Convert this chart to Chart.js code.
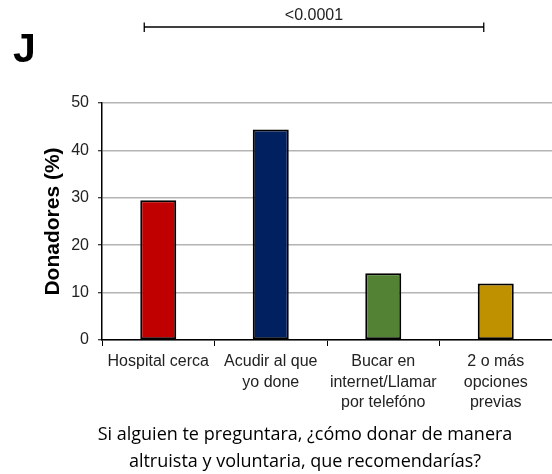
<!DOCTYPE html>
<html>
<head>
<meta charset="utf-8">
<script src="https://cdn.jsdelivr.net/npm/chart.js@4"></script>
<style>
  body { margin: 0; background: #fff; }
</style>
</head>
<body>
<canvas id="chart" width="552" height="474"></canvas>
<script>
const categories = [
    'Hospital cerca',
    ['Acudir al que', 'yo done'],
    ['Bucar en', 'internet/Llamar', 'por telefóno'],
    ['2 o más', 'opciones', 'previas']
];
const donadores = [29.5, 44.4, 14.1, 11.9];
const barColors = ['#c00000', '#002060', '#548235', '#bf9000'];
const yTicks = [0, 10, 20, 30, 40, 50];
const pValue = '<0.0001';
const caption = ['Si alguien te preguntara, ¿cómo donar de manera', 'altruista y voluntaria, que recomendarías?'];

const extras = {
    id: 'extras',
    afterDraw(chart) {
        const ctx = chart.ctx;
        const x = chart.scales.x;
        ctx.save();
        // panel letter
        ctx.fillStyle = '#000';
        ctx.font = 'bold 41px "Liberation Sans"';
        ctx.textAlign = 'left';
        ctx.textBaseline = 'alphabetic';
        ctx.fillText('J', 13, 62);

        // significance bracket
        const x1 = x.getPixelForValue(0) - 14;
        const x2 = x.getPixelForValue(3) - 12;
        ctx.strokeStyle = '#000';
        ctx.lineWidth = 1.3;
        ctx.beginPath();
        ctx.moveTo(x1, 27); ctx.lineTo(x2, 27);
        ctx.moveTo(x1, 22.5); ctx.lineTo(x1, 32);
        ctx.moveTo(x2, 22.5); ctx.lineTo(x2, 32);
        ctx.stroke();
        ctx.font = '16px "Liberation Sans"';
        ctx.fillStyle = '#222';
        ctx.textAlign = 'center';
        ctx.textBaseline = 'middle';
        ctx.fillText(pValue, (x1 + x2) / 2, 16);

        // caption
        ctx.font = '18px "Open Sans"';
        ctx.fillStyle = '#000';
        ctx.fillText(caption[0], 305, 435);
        ctx.fillText(caption[1], 305, 462);
        ctx.restore();
    }
};

new Chart(document.getElementById('chart'), {
    type: 'bar',
    data: {
        labels: categories,
        datasets: [{
            data: donadores,
            backgroundColor: barColors,
            borderColor: '#000',
            borderWidth: 2,
            borderSkipped: false,
            barPercentage: 0.32,
            categoryPercentage: 1
        }]
    },
    options: {
        responsive: false,
        animation: false,
        layout: { padding: { top: 103, right: 0, bottom: 0, left: 0 } },
        plugins: {
            legend: { display: false },
            tooltip: { enabled: false }
        },
        scales: {
            x: {
                afterFit(scale) { scale.height = 134; },
                grid: {
                    drawOnChartArea: false,
                    tickLength: 6,
                    tickColor: '#000',
                    tickWidth: 1
                },
                border: { color: '#000', width: 1.5 },
                ticks: {
                    color: '#222',
                    padding: 5,
                    maxRotation: 0,
                    autoSkip: false,
                    font: { family: '"Liberation Sans"', size: 16, lineHeight: 1.3 }
                }
            },
            y: {
                min: 0,
                max: 50,
                afterFit(scale) { scale.width = 102; },
                afterBuildTicks(scale) { scale.ticks = yTicks.map(v => ({ value: v })); },
                grid: {
                    color: '#b4b4b4',
                    lineWidth: 1.5,
                    tickLength: 4,
                    tickColor: '#000',
                    tickWidth: 1
                },
                border: { color: '#000', width: 1.5 },
                ticks: {
                    color: '#222',
                    padding: 9,
                    font: { family: '"Liberation Sans"', size: 16 }
                },
                title: {
                    display: true,
                    text: 'Donadores (%)',
                    color: '#000',
                    padding: { top: 41, bottom: 0 },
                    font: { family: '"Liberation Sans"', size: 21, weight: 'bold' }
                }
            }
        }
    },
    plugins: [extras]
});
</script>
</body>
</html>
